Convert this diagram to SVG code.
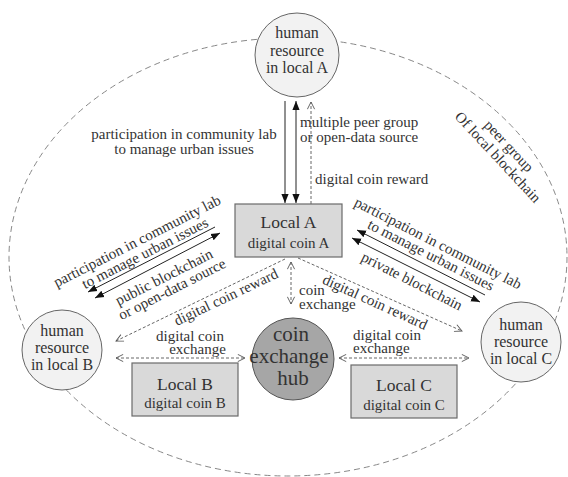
<svg xmlns="http://www.w3.org/2000/svg" width="568" height="477" viewBox="0 0 568 477">
<defs>
<style>
text{font-family:"Liberation Serif","Times New Roman",serif;fill:#333}
.t15{font-size:15px}
.t16{font-size:16px}
.big{font-size:17.5px}
.hub{font-size:21px}
.mid{text-anchor:middle}
.circ{fill:#f2f2f2;stroke:#666;stroke-width:1}
.box{fill:#d9d9d9;stroke:#6a6a6a;stroke-width:1.2}
.solid{stroke:#222;stroke-width:1;fill:none}
.dash{stroke:#666;stroke-width:1;stroke-dasharray:3 2;fill:none}
</style>
<marker id="arr" viewBox="0 0 10 10" refX="10" refY="5" markerWidth="9" markerHeight="9" markerUnits="userSpaceOnUse" orient="auto-start-reverse"><path d="M0,1 L10,5 L0,9 z" fill="#111"/></marker>
<marker id="open" viewBox="0 0 10 10" refX="9" refY="5" markerWidth="9" markerHeight="9" markerUnits="userSpaceOnUse" orient="auto-start-reverse"><path d="M1,1 L9,5 L1,9" fill="none" stroke="#555" stroke-width="1"/></marker>
</defs>
<rect width="568" height="477" fill="#fff"/>

<g id="peer-group">
<ellipse cx="288" cy="257" rx="279" ry="219" fill="none" stroke="#888" stroke-width="1" stroke-dasharray="6 4"/>
<text class="t15 mid" transform="translate(509,146) rotate(47)" y="5">peer group</text>
<text class="t15 mid" transform="translate(498,157) rotate(47)" y="5">Of local blockchain</text>
</g>

<g id="connectors">
<line class="solid" x1="285" y1="101" x2="285" y2="203" marker-end="url(#arr)"/>
<line class="solid" x1="296" y1="101" x2="296" y2="203" marker-start="url(#arr)" marker-end="url(#arr)"/>
<line class="dash" x1="311" y1="204" x2="311" y2="102" marker-end="url(#open)"/>
<text class="t15 mid" x="184" y="139">participation in community lab</text>
<text class="t15 mid" x="184" y="154">to manage urban issues</text>
<text class="t15" x="300" y="127">multiple peer group</text>
<text class="t15" x="300" y="142">or open-data source</text>
<text class="t15" x="315" y="184">digital coin reward</text>

<line class="solid" x1="215" y1="227" x2="88" y2="292" marker-end="url(#arr)"/>
<line class="solid" x1="220" y1="233" x2="95" y2="298" marker-start="url(#arr)" marker-end="url(#arr)"/>
<text class="t15 mid" transform="translate(137,241) rotate(-27)" y="5">participation in community lab</text>
<text class="t15 mid" transform="translate(145,253) rotate(-27)" y="5">to manage urban issues</text>
<text class="t15 mid" transform="translate(164,277) rotate(-27)" y="5">public blockchain</text>
<text class="t15 mid" transform="translate(172,289) rotate(-27)" y="5">or open-data source</text>

<line class="solid" x1="485" y1="295" x2="357" y2="230" marker-end="url(#arr)"/>
<line class="solid" x1="352" y1="238" x2="480" y2="302" marker-start="url(#arr)" marker-end="url(#arr)"/>
<text class="t15 mid" transform="translate(438,243) rotate(27)" y="5">participation in community lab</text>
<text class="t15 mid" transform="translate(431,255) rotate(27)" y="5">to manage urban issues</text>
<text class="t15 mid" transform="translate(412,281) rotate(27)" y="5">private blockchain</text>

<line class="dash" x1="285" y1="259" x2="116" y2="341" marker-end="url(#open)"/>
<text class="t15 mid" transform="translate(226,297) rotate(-25.5)" y="5">digital coin reward</text>
<line class="dash" x1="298" y1="258" x2="462" y2="331" marker-end="url(#open)"/>
<text class="t15 mid" transform="translate(375,302) rotate(24.5)" y="5">digital coin reward</text>

<line class="dash" x1="291" y1="262" x2="291" y2="304" marker-start="url(#open)" marker-end="url(#open)"/>
<text class="t15" x="299" y="295">coin</text>
<text class="t15" x="299" y="309">exchange</text>
<line class="dash" x1="116" y1="358" x2="245" y2="358" marker-start="url(#open)" marker-end="url(#open)"/>
<text class="t15 mid" x="190" y="341">digital coin</text>
<text class="t15 mid" x="197.5" y="354">exchange</text>
<line class="dash" x1="339" y1="358" x2="469" y2="358" marker-start="url(#open)" marker-end="url(#open)"/>
<text class="t15" x="353" y="340">digital coin</text>
<text class="t15" x="353" y="353">exchange</text>
</g>

<g id="human-A">
<circle class="circ" cx="297" cy="55" r="42"/>
<text class="t16 mid" x="297" y="38">human</text>
<text class="t16 mid" x="297" y="56">resource</text>
<text class="t16 mid" x="297" y="73">in local A</text>
</g>

<g id="human-B">
<circle class="circ" cx="62" cy="350" r="40"/>
<text class="t16 mid" x="62" y="336">human</text>
<text class="t16 mid" x="62" y="353">resource</text>
<text class="t16 mid" x="62" y="370">in local B</text>
</g>

<g id="human-C">
<circle class="circ" cx="521" cy="342" r="40"/>
<text class="t16 mid" x="521" y="330">human</text>
<text class="t16 mid" x="521" y="347">resource</text>
<text class="t16 mid" x="521" y="364">in local C</text>
</g>

<g id="local-A">
<rect class="box" x="235" y="204" width="107" height="53"/>
<text class="big mid" x="288.5" y="228">Local A</text>
<text class="t15 mid" x="288.5" y="248">digital coin A</text>
</g>

<g id="local-B">
<rect class="box" x="132" y="363" width="106" height="53"/>
<text class="big mid" x="185" y="390">Local B</text>
<text class="t15 mid" x="185" y="408">digital coin B</text>
</g>

<g id="local-C">
<rect class="box" x="351" y="365" width="106" height="53"/>
<text class="big mid" x="404" y="391">Local C</text>
<text class="t15 mid" x="404" y="410">digital coin C</text>
</g>

<g id="hub">
<circle cx="293" cy="359" r="41" fill="#a6a6a6" stroke="#555" stroke-width="1"/>
<text class="hub mid" x="291" y="341">coin</text>
<text class="hub mid" x="289" y="363">exchange</text>
<text class="hub mid" x="293" y="385">hub</text>
</g>
</svg>
